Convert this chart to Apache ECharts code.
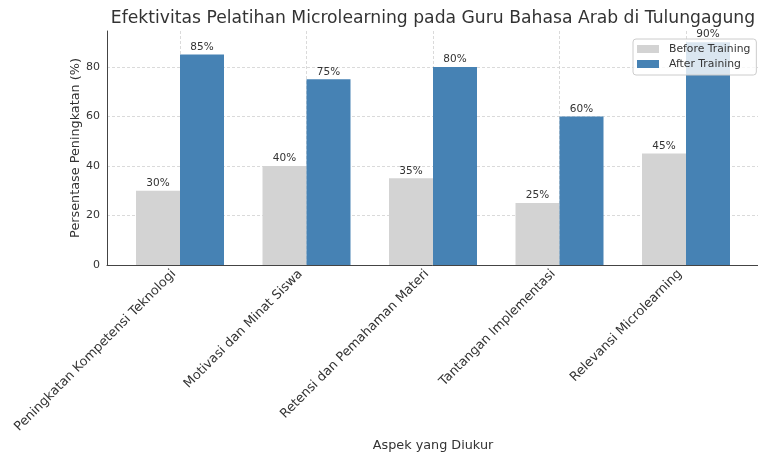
<!DOCTYPE html>
<html>
<head>
<meta charset="utf-8">
<script src="https://cdn.jsdelivr.net/npm/echarts@6/dist/echarts.min.js"></script>
<style>html,body{margin:0;padding:0;background:#fff}#c{width:758px;height:454px}</style>
</head>
<body>
<div id="c"></div>
<script>
const categories = ['Peningkatan Kompetensi Teknologi', 'Motivasi dan Minat Siswa', 'Retensi dan Pemahaman Materi', 'Tantangan Implementasi', 'Relevansi Microlearning'];
const beforeValues = [30, 40, 35, 25, 45];
const afterValues = [85, 75, 80, 60, 90];
const yTicks = [0, 20, 40, 60, 80];
const titleText = 'Efektivitas Pelatihan Microlearning pada Guru Bahasa Arab di Tulungagung';

const FONT = 'DejaVu Sans';
const TXT = '#333';
const chart = echarts.init(document.getElementById('c'), null, {renderer: 'canvas'});
const TOP = 31, H = 234, YMAX = 94.5;
const gridStyle = {show: true, lineStyle: {color: '#d0d0d0', type: [3, 2], width: 0.8}};
const G = {outerBoundsMode: 'none', containLabel: false};

chart.setOption({
  animation: false,
  textStyle: {fontFamily: FONT},
  graphic: [{
    type: 'text', x: 433, y: 19,
    style: {text: titleText, fontFamily: FONT, fontSize: 17.2, fill: TXT, textAlign: 'center', textVerticalAlign: 'middle'}
  }],
  grid: [
    Object.assign({left: 107, top: TOP, width: 653, height: H}, G),
    Object.assign({left: 116.75, top: TOP, width: 632.5, height: H}, G),
    Object.assign({left: 180, top: TOP, width: 506, height: H}, G),
    Object.assign({left: 110.75, top: TOP, width: 632.5, height: H}, G)
  ],
  legend: {
    orient: 'vertical', left: 633, top: 39,
    data: ['Before Training', 'After Training'],
    itemWidth: 22, itemHeight: 8, itemGap: 3, icon: 'rect',
    padding: [4, 6, 5, 4],
    backgroundColor: 'rgba(255,255,255,0.8)', borderColor: '#cccccc', borderWidth: 1, borderRadius: 3,
    textStyle: {fontFamily: FONT, fontSize: 10.8, color: TXT, lineHeight: 12, padding: [0, 0, 0, 5]}
  },
  xAxis: [
    {gridIndex: 0, type: 'value', min: 0, max: 1, axisLine: {show: true, onZero: false, lineStyle: {color: '#444', width: 1}}, axisTick: {show: false}, axisLabel: {show: false}, splitLine: {show: false}},
    {gridIndex: 1, type: 'category', data: categories, axisLine: {show: false}, axisTick: {show: false},
      axisLabel: {show: false}, splitLine: {show: false},
      name: 'Aspek yang Diukur', nameLocation: 'middle', nameGap: 174, nameMoveOverlap: false,
      nameTextStyle: {fontFamily: FONT, fontSize: 12.8, color: TXT}},
    {gridIndex: 2, type: 'value', min: 0, max: 4, interval: 1, axisLine: {show: false}, axisTick: {show: false}, axisLabel: {show: false}, splitLine: gridStyle},
    {gridIndex: 3, type: 'category', data: categories, axisLine: {show: false}, axisTick: {show: false},
      axisLabel: {rotate: 45, interval: 0, margin: 7, fontFamily: FONT, fontSize: 12.8, color: TXT},
      splitLine: {show: false}}
  ],
  yAxis: [
    {gridIndex: 0, type: 'value', min: 0, max: YMAX, interval: 20,
      axisLine: {show: true, lineStyle: {color: '#444', width: 1}}, axisTick: {show: false},
      axisLabel: {margin: 7, fontFamily: FONT, fontSize: 11, color: TXT, showMaxLabel: false,
        formatter: v => yTicks.includes(v) ? String(v) : ''},
      splitLine: Object.assign({showMaxLine: false, showMinLine: false}, gridStyle),
      name: 'Persentase Peningkatan (%)', nameLocation: 'middle', nameGap: 25, nameMoveOverlap: false,
      nameTextStyle: {fontFamily: FONT, fontSize: 12.8, color: TXT}},
    {gridIndex: 1, type: 'value', min: 0, max: YMAX, show: false},
    {gridIndex: 2, type: 'value', min: 0, max: YMAX, show: false},
    {gridIndex: 3, type: 'value', min: 0, max: YMAX, show: false}
  ],
  series: [
    {name: 'Before Training', type: 'bar', xAxisIndex: 1, yAxisIndex: 1, data: beforeValues,
      barWidth: 44, barGap: '0%', itemStyle: {color: '#d3d3d3'},
      label: {show: true, position: 'top', distance: 2, formatter: '{c}%', fontFamily: FONT, fontSize: 10.5, color: TXT}},
    {name: 'After Training', type: 'bar', xAxisIndex: 1, yAxisIndex: 1, data: afterValues,
      barWidth: 44, barGap: '0%', itemStyle: {color: '#4682b4'},
      label: {show: true, position: 'top', distance: 2, formatter: '{c}%', fontFamily: FONT, fontSize: 10.5, color: TXT}}
  ]
});
</script>
</body>
</html>
